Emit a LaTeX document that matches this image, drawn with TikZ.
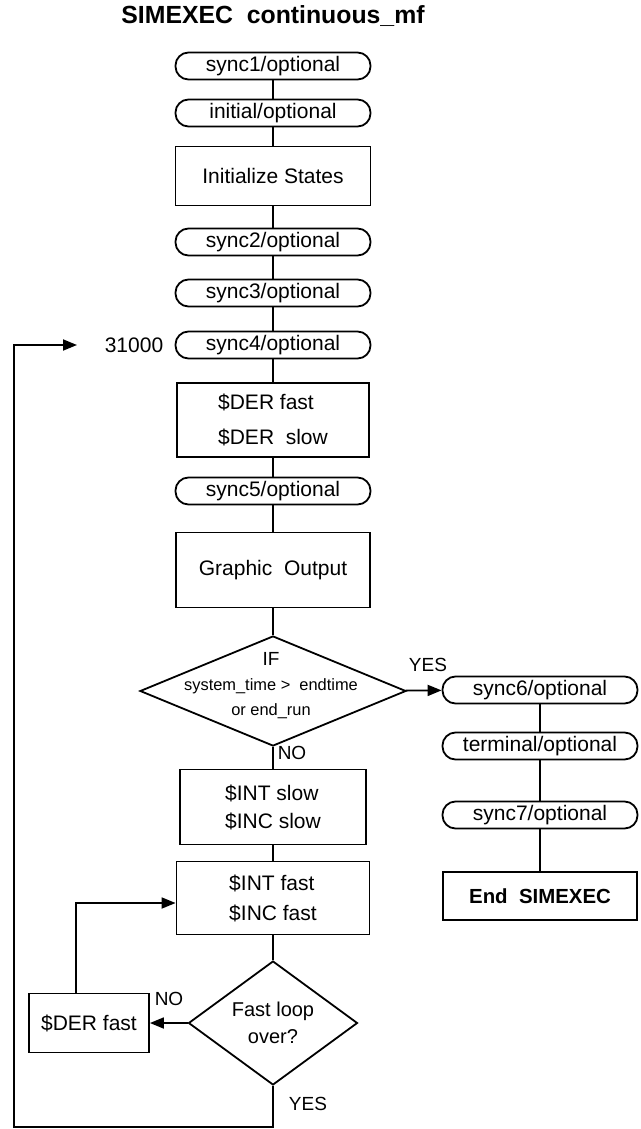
\documentclass[tikz,border=0pt]{standalone}
\usepackage{fontspec}
\setmainfont{Liberation Sans}
\usetikzlibrary{arrows.meta,shapes.geometric}

\tikzset{
  syncbox/.style={draw, rounded corners=6.5pt, minimum width=97.5pt, minimum height=13.5pt,
    inner sep=0pt, font=\fontsize{10.5}{12}\selectfont},
  procbox/.style={draw, inner sep=0pt, align=left, font=\fontsize{10.5}{12.5}\selectfont},
  decide/.style={draw, diamond, inner sep=0pt},
  tag/.style={inner sep=0pt, font=\fontsize{9.5}{11}\selectfont},
  arr/.style={-{Triangle[length=7pt,width=5.5pt]}},
}

\begin{document}
\begin{tikzpicture}[x=0.5pt, y=-0.5pt, line width=0.9pt]
  \useasboundingbox (0,0) rectangle (641,1129);

  % title
  \node[inner sep=0pt, font=\bfseries\fontsize{12.4}{14}\selectfont] (title) at (273,16)
    {SIMEXEC\ \ continuous\_mf};

  % main column
  \node[syncbox] (s1) at (273,66) {sync1/optional};
  \node[syncbox] (init) at (273,113) {initial/optional};
  \node[procbox, minimum width=97.5pt, minimum height=29.5pt] (initst) at (273,176) {Initialize States};
  \node[syncbox] (s2) at (273,242) {sync2/optional};
  \node[syncbox] (s3) at (273,293) {sync3/optional};
  \node[syncbox] (s4) at (273,345) {sync4/optional};
  \node[font=\fontsize{10.5}{12}\selectfont, inner sep=0pt] (n31000) at (134,345) {31000};
  \coordinate (c31) at (77,345);
  \node[procbox, minimum width=96pt, minimum height=37pt] (derbox) at (273,420)
    {\$DER fast\\[5pt]\$DER\ \ slow};
  \node[syncbox] (s5) at (273,491) {sync5/optional};
  \node[procbox, minimum width=97pt, minimum height=37.5pt] (graph) at (273,570) {Graphic\ \ Output};

  \node[decide, minimum width=133pt, minimum height=55pt] (ifdia) at (273,691) {};
  \node[inner sep=0pt, align=center, font=\fontsize{8.2}{12.5}\selectfont] (iftext) at (271,686)
    {{\fontsize{9.5}{11}\selectfont IF}\\system\_time >\ \ endtime\\or end\_run};

  \node[procbox, minimum width=93pt, minimum height=37.5pt] (intslow) at (273,807)
    {\$INT slow\\[1.5pt]\$INC slow};
  \node[procbox, minimum width=96.5pt, minimum height=36.5pt] (intfast) at (273,898)
    {\$INT fast\\[2.5pt]\$INC fast};
  \node[decide, minimum width=84.5pt, minimum height=59.5pt, align=center,
    font=\fontsize{10}{13.5}\selectfont] (fastdia) at (273,1023) {Fast loop\\over?};
  \node[procbox, minimum width=60pt, minimum height=29.5pt] (derfast) at (89,1023) {\$DER fast};

  % right column
  \node[syncbox] (s6) at (540,690) {sync6/optional};
  \node[syncbox] (term) at (540,746) {terminal/optional};
  \node[syncbox] (s7) at (540,815) {sync7/optional};
  \node[procbox, minimum width=97pt, minimum height=24pt, font=\bfseries\fontsize{10.2}{12}\selectfont]
    (endsim) at (540,896) {End\ \ SIMEXEC};

  % labels
  \node[tag] (yes1) at (428,665) {YES};
  \node[tag] (no1) at (292,753) {NO};
  \node[tag] (no2) at (169,999) {NO};
  \node[tag] (yes2) at (308,1104) {YES};

  \coordinate (lb) at (14,1127);

  \begin{scope}[-]
    \draw (s1) to (init);
    \draw (init) to (initst);
    \draw (initst) to (s2);
    \draw (s2) to (s3);
    \draw (s3) to (s4);
    \draw (s4) to (derbox);
    \draw (derbox) to (s5);
    \draw (s5) to (graph);
    \draw (graph) to (ifdia);
    \draw (ifdia) to (intslow);
    \draw (intslow) to (intfast);
    \draw (intfast) to (fastdia);
    \draw[arr] (ifdia) to (s6);
    \draw (s6) to (term);
    \draw (term) to (s7);
    \draw (s7) to (endsim);
    \draw[arr] (fastdia) to (derfast);
    \draw[arr] ([xshift=-6.5pt]derfast.north) |- ([yshift=-2.5pt]intfast.west);
    \draw[arr] (fastdia.south) |- (lb) |- (c31);
  \end{scope}
\end{tikzpicture}
\end{document}
